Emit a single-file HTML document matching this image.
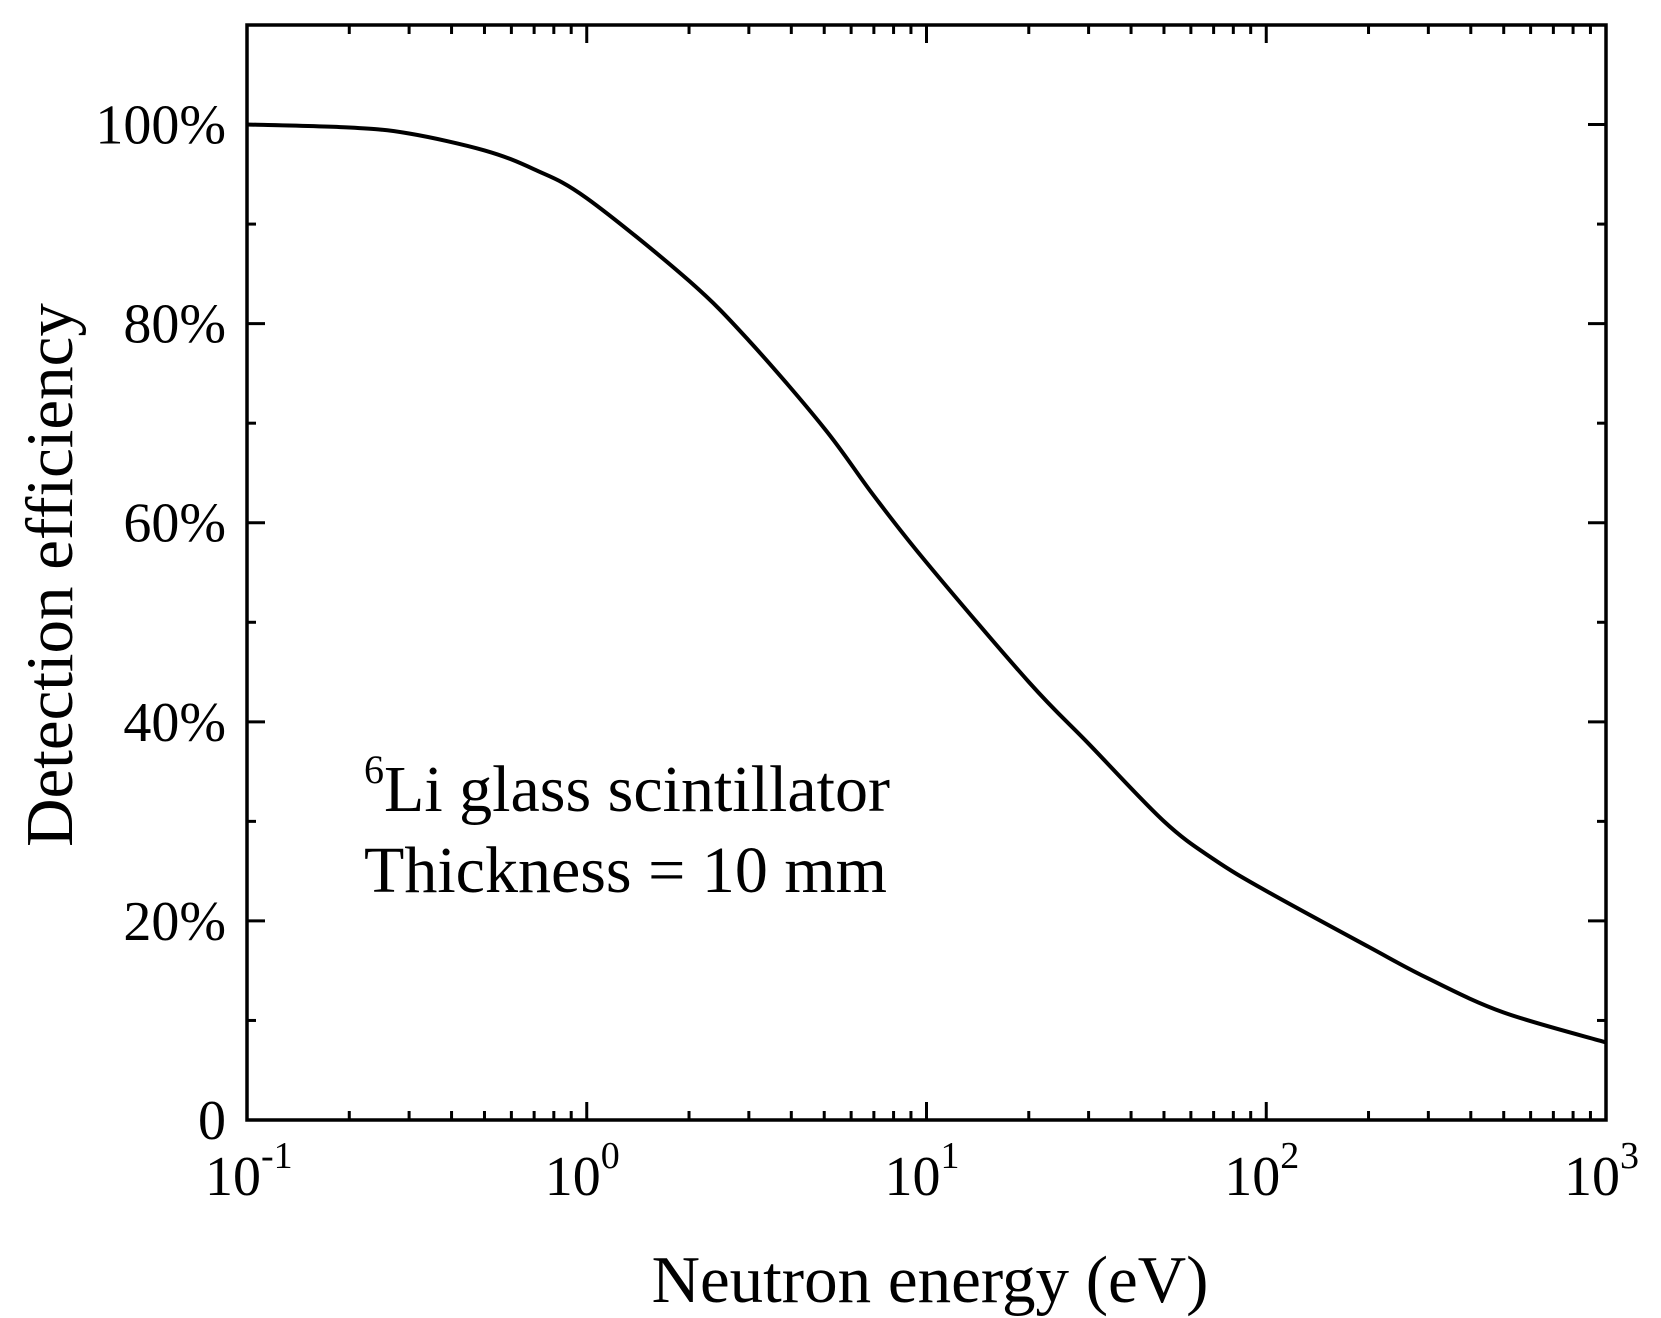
<!DOCTYPE html>
<html><head><meta charset="utf-8"><style>
html,body{margin:0;padding:0;background:#fff;}
svg{display:block;font-family:"Liberation Serif",serif;}
</style></head><body>
<svg id="chart" width="1661" height="1318" viewBox="0 0 1661 1318" xmlns="http://www.w3.org/2000/svg">
<g id="plot"></g>
<text x="930" y="1302" font-size="67" text-anchor="middle">Neutron energy (eV)</text>
<text transform="translate(72,575) rotate(-90)" font-size="67" text-anchor="middle">Detection efficiency</text>
<text x="364" y="811" font-size="66"><tspan font-size="40" dy="-28">6</tspan><tspan dy="28">Li glass scintillator</tspan></text>
<text x="364" y="892" font-size="66">Thickness = 10 mm</text>
</svg>
<script>
const energies = [0.1, 0.2, 0.3, 0.5, 0.7, 1, 2, 3, 5, 7, 10, 20, 30, 50, 70, 100, 200, 300, 500, 1000];
const efficiency = [100, 99.7, 99.1, 97.4, 95.5, 92.6, 84.3, 78.3, 69.5, 62.7, 56.0, 44.0, 37.8, 30.0, 26.2, 23.0, 17.4, 14.2, 10.8, 7.8];
const yTicks = [0, 20, 40, 60, 80, 100];
const yTickLabels = ["0", "20%", "40%", "60%", "80%", "100%"];
const xDecades = [-1, 0, 1, 2, 3];

const L=247, R=1606, T=25, B=1120;
const xMin=-1, xMax=3, yMin=0, yMax=110;
function X(v){return L+(Math.log10(v)-xMin)/(xMax-xMin)*(R-L);}
function Y(v){return B-(v-yMin)/(yMax-yMin)*(B-T);}
const NS="http://www.w3.org/2000/svg";
const g=document.getElementById('plot');
function mk(t,a){const e=document.createElementNS(NS,t);for(const k in a)e.setAttribute(k,a[k]);g.appendChild(e);return e;}

// smooth curve (Catmull-Rom)
const P=energies.map((e,i)=>[X(e),Y(efficiency[i])]);
let d='M'+P[0][0].toFixed(1)+','+P[0][1].toFixed(1);
for(let i=0;i<P.length-1;i++){
  const p0=P[Math.max(i-1,0)],p1=P[i],p2=P[i+1],p3=P[Math.min(i+2,P.length-1)];
  const c1=[p1[0]+(p2[0]-p0[0])/6,p1[1]+(p2[1]-p0[1])/6];
  const c2=[p2[0]-(p3[0]-p1[0])/6,p2[1]-(p3[1]-p1[1])/6];
  d+=' C'+c1.map(v=>v.toFixed(1)).join(',')+' '+c2.map(v=>v.toFixed(1)).join(',')+' '+p2.map(v=>v.toFixed(1)).join(',');
}
const line=mk('path',{d:d,fill:'none',stroke:'#000','stroke-width':4,'stroke-linejoin':'round'});



// y ticks
for(let v=0; v<=110; v+=10){
  const y=Y(v), major=v%20===0, len=major?18:9;
  mk('line',{x1:L,x2:L+len,y1:y,y2:y,stroke:'#000','stroke-width':3});
  mk('line',{x1:R,x2:R-len,y1:y,y2:y,stroke:'#000','stroke-width':3});
}
yTicks.forEach((v,i)=>{
  const t=mk('text',{x:226,y:Y(v)+19,'font-size':56,'text-anchor':'end'});
  t.textContent=yTickLabels[i];
  
  
});
// x ticks
xDecades.forEach((p,i)=>{
  const x=X(Math.pow(10,p));
  mk('line',{x1:x,x2:x,y1:B,y2:B-18,stroke:'#000','stroke-width':3});
  mk('line',{x1:x,x2:x,y1:T,y2:T+18,stroke:'#000','stroke-width':3});
  if(i<xDecades.length-1){
    for(let m=2;m<=9;m++){
      const xm=X(m*Math.pow(10,p));
      mk('line',{x1:xm,x2:xm,y1:B,y2:B-9,stroke:'#000','stroke-width':3});
      mk('line',{x1:xm,x2:xm,y1:T,y2:T+9,stroke:'#000','stroke-width':3});
    }
  }
  const t=mk('text',{x:x-42,y:1195,'font-size':56});
  t.innerHTML='10<tspan font-size="38" dy="-27">'+p+'</tspan>';
  
  
});
// frame
const fr=mk('rect',{x:L,y:T,width:R-L,height:B-T,fill:'none',stroke:'#000','stroke-width':3.5});


</script>
</body></html>
